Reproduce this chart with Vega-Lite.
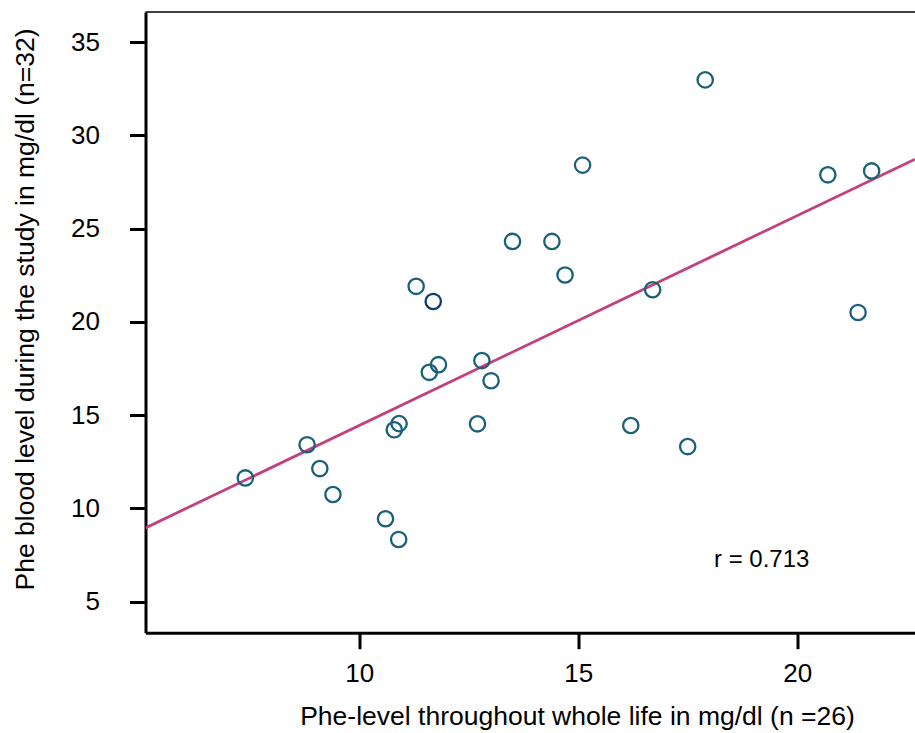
{
  "$schema": "https://vega.github.io/schema/vega-lite/v6.json",
  "autosize": "none",
  "width": 769.5,
  "height": 620.7,
  "padding": {"left": 145.5, "top": 12, "right": 0, "bottom": 100.3},
  "background": "white",
  "config": {
    "view": {"stroke": null},
    "font": "Liberation Sans",
    "axis": {
      "grid": false,
      "domainColor": "black",
      "domainWidth": 3,
      "tickColor": "black",
      "tickWidth": 3,
      "tickSize": 16,
      "labelColor": "black",
      "labelFont": "Liberation Sans",
      "labelFontSize": 26,
      "titleColor": "black",
      "titleFont": "Liberation Sans",
      "titleFontSize": 26.5,
      "titleFontWeight": "normal"
    }
  },
  "datasets": {
    "pts": [
      {"life": 7.40, "study": 11.64, "kind": "a"},
      {"life": 8.81, "study": 13.42, "kind": "a"},
      {"life": 9.10, "study": 12.14, "kind": "a"},
      {"life": 9.40, "study": 10.75, "kind": "a"},
      {"life": 10.60, "study": 9.45, "kind": "a"},
      {"life": 10.90, "study": 8.34, "kind": "a"},
      {"life": 10.80, "study": 14.22, "kind": "a"},
      {"life": 10.91, "study": 14.55, "kind": "a"},
      {"life": 11.30, "study": 21.91, "kind": "a"},
      {"life": 11.69, "study": 21.10, "kind": "b"},
      {"life": 11.60, "study": 17.30, "kind": "a"},
      {"life": 11.81, "study": 17.71, "kind": "a"},
      {"life": 12.80, "study": 17.93, "kind": "a"},
      {"life": 13.01, "study": 16.85, "kind": "a"},
      {"life": 12.70, "study": 14.54, "kind": "a"},
      {"life": 13.50, "study": 24.32, "kind": "a"},
      {"life": 14.40, "study": 24.32, "kind": "a"},
      {"life": 14.70, "study": 22.52, "kind": "a"},
      {"life": 15.10, "study": 28.41, "kind": "a"},
      {"life": 16.70, "study": 21.73, "kind": "a"},
      {"life": 17.90, "study": 32.98, "kind": "a"},
      {"life": 16.20, "study": 14.45, "kind": "a"},
      {"life": 17.50, "study": 13.32, "kind": "a"},
      {"life": 20.70, "study": 27.89, "kind": "a"},
      {"life": 21.70, "study": 28.10, "kind": "a"},
      {"life": 21.39, "study": 20.51, "kind": "a"}
    ],
    "fit": [
      {"life": 5.12, "study": 8.96},
      {"life": 22.69, "study": 28.73}
    ],
    "note": [
      {"life": 19.19, "study": 6.84, "label": "r = 0.713"}
    ],
    "frame": [
      {"study": 36.62}
    ]
  },
  "layer": [
    {
      "data": {"name": "fit"},
      "mark": {"type": "line", "color": "#c3407f", "strokeWidth": 2.8, "clip": true},
      "encoding": {
        "x": {
          "field": "life", "type": "quantitative",
          "scale": {"domain": [5.12, 22.69], "nice": false, "zero": false},
          "axis": {
            "values": [10, 15, 20],
            "title": "Phe-level throughout whole life in mg/dl (n =26)",
            "labelPadding": 12,
            "titleX": 431.5,
            "titleY": 91.6,
            "titleAlign": "center",
            "titleBaseline": "alphabetic",
            "titleAnchor": null
          }
        },
        "y": {
          "field": "study", "type": "quantitative",
          "scale": {"domain": [3.34, 36.62], "nice": false, "zero": false},
          "axis": {
            "values": [5, 10, 15, 20, 25, 30, 35],
            "title": "Phe blood level during the study in mg/dl (n=32)",
            "labelPadding": 30,
            "titleX": -112,
            "titleY": 297,
            "titleAngle": -90,
            "titleAlign": "center",
            "titleBaseline": "alphabetic",
            "titleAnchor": null
          }
        }
      }
    },
    {
      "data": {"name": "pts"},
      "mark": {"type": "point", "shape": "circle", "filled": false, "strokeWidth": 2.3, "size": 235, "opacity": 1},
      "encoding": {
        "x": {"field": "life", "type": "quantitative"},
        "y": {"field": "study", "type": "quantitative"},
        "color": {
          "field": "kind", "type": "nominal",
          "scale": {"domain": ["a", "b"], "range": ["#1b6079", "#0c3d70"]},
          "legend": null
        }
      }
    },
    {
      "data": {"name": "note"},
      "mark": {"type": "text", "fontSize": 24, "align": "center", "baseline": "alphabetic", "color": "black", "font": "Liberation Sans"},
      "encoding": {
        "x": {"field": "life", "type": "quantitative"},
        "y": {"field": "study", "type": "quantitative"},
        "text": {"field": "label"}
      }
    },
    {
      "data": {"name": "frame"},
      "mark": {"type": "rule", "color": "black", "strokeWidth": 1.7},
      "encoding": {
        "y": {"field": "study", "type": "quantitative"}
      }
    }
  ]
}
